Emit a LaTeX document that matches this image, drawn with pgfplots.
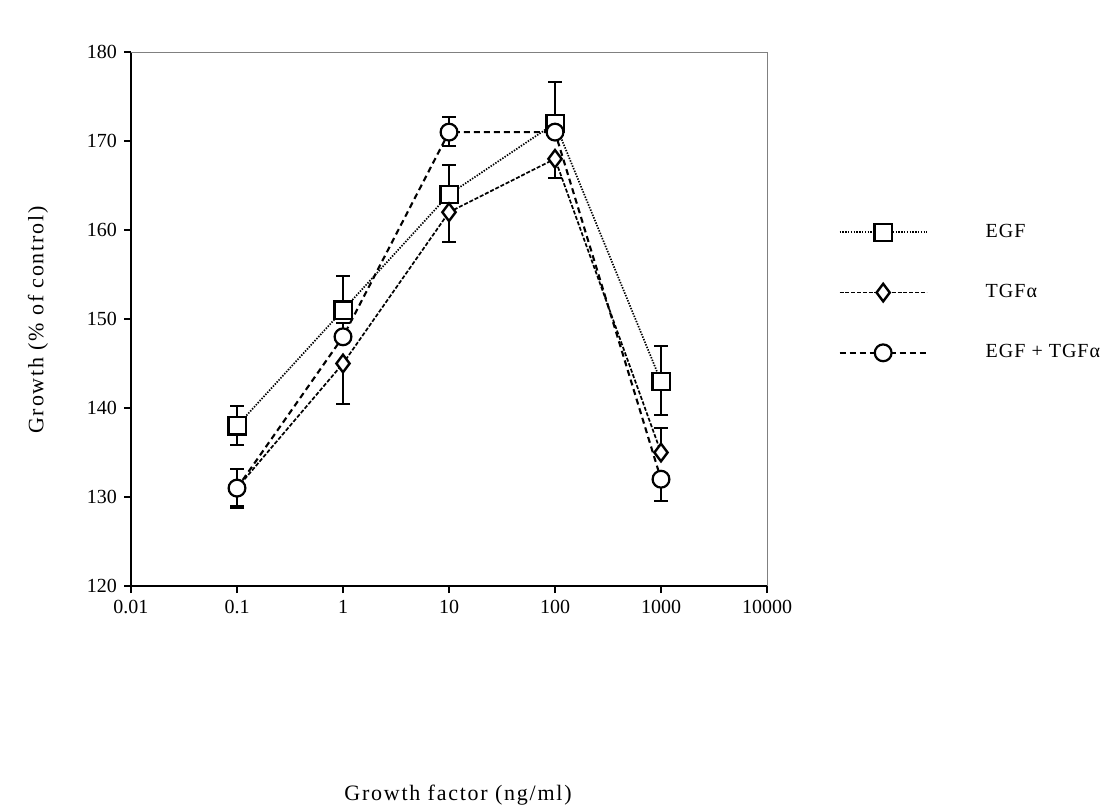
\documentclass[border=0pt]{standalone}
\usepackage{fontspec}
\setmainfont{Liberation Serif}
\usepackage{pgfplots}
\pgfplotsset{compat=1.18}
\begin{document}
\fontsize{10}{12}\selectfont
\begin{tikzpicture}
\useasboundingbox (0,0) rectangle (556pt,405.5pt);
\begin{axis}[
  at={(65.5pt,112.5pt)}, anchor=south west,
  scale only axis, width=318pt, height=267pt,
  xmode=log, xmin=0.01, xmax=10000, ymin=120, ymax=180,
  axis lines*=left, axis line style={line width=1pt},
  xtick={0.01,0.1,1,10,100,1000,10000},
  xticklabels={0.01,0.1,1,10,100,1000,10000},
  ytick={120,130,140,150,160,170,180},
  yticklabels={120,130,140,150,160,170,180},
  xminorticks=false, yminorticks=false,
  tick align=outside, major tick length=3.5pt,
  tick style={line width=1pt, black},
  tick label style={font=\fontsize{10}{12}\selectfont},
  clip=false,
  legend style={draw=none, fill=none, at={(1.112,0.682)}, anchor=north west,
    inner sep=0pt, row sep=20pt, nodes={inner sep=1pt, anchor=west},
    font=\fontsize{10}{12}\selectfont\addfontfeatures{LetterSpace=5},
    /tikz/every odd column/.append style={column sep=28pt}},
  legend cell align=left,
  legend image code/.code={\draw[mark repeat=2,mark phase=2,#1] plot coordinates {(0pt,0pt)(21.75pt,0pt)(43.5pt,0pt)};},
  error bars/y dir=both, error bars/y explicit,
  error bars/error bar style={line width=1pt, solid},
  error bars/error mark options={rotate=90, mark size=3.5pt, line width=1pt, solid},
]
\addplot[black, line width=0.85pt, dash pattern=on 0.7pt off 0.7pt,
  mark=square*, mark options={fill=white, solid, line width=1.1pt, mark size=4.3pt}]
  coordinates {
  (0.1,138)  += (0,2.2) -= (0,2.2)
  (1,151)    += (0,3.8) -= (0,0)
  (10,164)   += (0,3.3) -= (0,0)
  (100,172)  += (0,4.6) -= (0,0)
  (1000,143) += (0,4.0) -= (0,3.8)
  };
\addlegendentry{EGF}
\addplot[black, line width=0.85pt, dash pattern=on 2pt off 0.9pt,
  mark=diamond*, mark options={fill=white, solid, line width=1.2pt, mark size=4.4pt}]
  coordinates {
  (0.1,131)  += (0,0) -= (0,2.2)
  (1,145)    += (0,0) -= (0,4.5)
  (10,162)   += (0,0) -= (0,3.3)
  (100,168)  += (0,0) -= (0,2.2)
  (1000,135) += (0,2.8) -= (0,0)
  };
\addlegendentry{TGFα}
\addplot[black, line width=1.05pt, dash pattern=on 3pt off 2pt,
  mark=*, mark options={fill=white, solid, line width=1.1pt, mark size=4.2pt}]
  coordinates {
  (0.1,131)  += (0,2.2) -= (0,2.0)
  (1,148)    += (0,1.5) -= (0,0)
  (10,171)   += (0,1.7) -= (0,1.6)
  (100,171)  += (0,0) -= (0,0)
  (1000,132) += (0,0) -= (0,2.4)
  };
\addlegendentry{EGF + TGFα}
\draw[line width=0.4pt, gray] (rel axis cs:0,1) -- (rel axis cs:1,1) -- (rel axis cs:1,0);
\end{axis}
\node[rotate=90, font=\fontsize{11}{13}\selectfont\addfontfeatures{LetterSpace=8}] at (19pt,245.5pt) {Growth (\% of control)};
\node[font=\fontsize{11}{13}\selectfont\addfontfeatures{LetterSpace=8}] at (229pt,8pt) {Growth factor (ng/ml)};
\end{tikzpicture}
\end{document}
